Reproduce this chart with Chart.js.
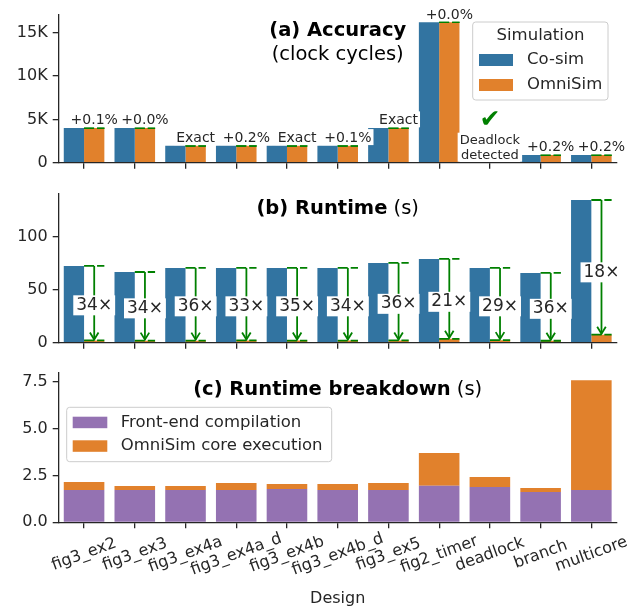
<!DOCTYPE html>
<html><head><meta charset="utf-8">
<script src="https://cdn.jsdelivr.net/npm/chart.js@4.4.0/dist/chart.umd.min.js"></script>
<style>
html,body{margin:0;padding:0;background:#fff;}
#wrap{position:relative;width:639px;height:608px;overflow:hidden;}
#wrap canvas{position:absolute;left:0;top:0;}
</style></head><body>
<div id="wrap">
<canvas id="ca" width="639" height="608"></canvas>
<canvas id="cb" width="639" height="608"></canvas>
<canvas id="cc" width="639" height="608"></canvas>
</div>
<script>
// ---------------- data ----------------
const designs = ['fig3_ex2','fig3_ex3','fig3_ex4a','fig3_ex4a_d','fig3_ex4b','fig3_ex4b_d','fig3_ex5','fig2_timer','deadlock','branch','multicore'];
// (a) accuracy, clock cycles
const cosimCycles   = [4000, 4000, 1950, 1950, 1950, 1950, 4000, 16220, null, 880, 880];
const omnisimCycles = [4004, 4000, 1950, 1954, 1950, 1952, 4000, 16220, null, 882, 882];
const accuracyLabels = ['+0.1%','+0.0%','Exact','+0.2%','Exact','+0.1%','Exact','+0.0%','Deadlock\ndetected','+0.2%','+0.2%'];
// (b) runtime, seconds
const cosimRuntime   = [72.4, 66.7, 70.5, 70.5, 70.5, 70.5, 75.2, 79.0, 70.5, 65.8, 134.6];
const omnisimRuntime = [2.15, 1.94, 1.94, 2.10, 2.04, 2.04, 2.10, 3.70, 2.42, 1.83, 7.57];
const speedupLabels  = ['34×','34×','36×','33×','35×','34×','36×','21×','29×','36×','18×'];
// (c) runtime breakdown, seconds
const frontEndTime = [1.72, 1.72, 1.72, 1.72, 1.78, 1.72, 1.72, 1.95, 1.88, 1.62, 1.72];
const coreExecTime = [0.43, 0.22, 0.22, 0.38, 0.26, 0.32, 0.38, 1.75, 0.54, 0.21, 5.85];
// ticks
const ticksA = [0, 5000, 10000, 15000];
const tickLabelsA = ['0','5K','10K','15K'];
const ticksB = [0, 50, 100];
const tickLabelsB = ['0','50','100'];
const ticksC = [0, 2.5, 5, 7.5];
const tickLabelsC = ['0.0','2.5','5.0','7.5'];

// ---------------- style ----------------
const FONT = "'DejaVu Sans', sans-serif";
const INK = '#262626';
const BLUE = '#3274a1', ORANGE = '#e1812c', PURPLE = '#9472b2', GREEN = '#008000';
const AREA_L = 58.7, AREA_R = 616.7, CX = (AREA_L + AREA_R) / 2;

function baseOptions(top, bottom, yMax, ticks, labels, stacked) {
  return {
    responsive: false, animation: false,
    layout: { padding: { left: 0, right: 639 - AREA_R, top: top, bottom: 608 - bottom - 10 } },
    plugins: { legend: { display: false }, tooltip: { enabled: false }, title: { display: false } },
    scales: {
      x: {
        type: 'category', offset: true, stacked: !!stacked,
        grid: { display: true, offset: false, drawOnChartArea: false, drawTicks: true, tickLength: 6, color: INK, lineWidth: 1.3 },
        border: { display: true, color: INK, width: 1.3 },
        ticks: { display: false },
        afterFit(s) { s.height = 10; }
      },
      y: {
        min: 0, max: yMax, stacked: !!stacked,
        grid: { display: true, drawOnChartArea: false, drawTicks: true, tickLength: 6, color: INK, lineWidth: 1.3 },
        border: { display: true, color: INK, width: 1.3 },
        ticks: { color: INK, font: { family: FONT, size: 16 }, padding: 5, callback: (v, i) => labels[i] },
        afterBuildTicks(s) { s.ticks = ticks.map(v => ({ value: v })); },
        afterFit(s) { s.width = AREA_L; }
      }
    }
  };
}

function roundRect(ctx, x, y, w, h, r) {
  ctx.beginPath();
  ctx.moveTo(x + r, y);
  ctx.arcTo(x + w, y, x + w, y + h, r);
  ctx.arcTo(x + w, y + h, x, y + h, r);
  ctx.arcTo(x, y + h, x, y, r);
  ctx.arcTo(x, y, x + w, y, r);
  ctx.closePath();
}

function mixedTitle(ctx, boldText, normalText, cx, cy) {
  ctx.textBaseline = 'middle';
  ctx.textAlign = 'left';
  ctx.font = `bold 19.5px ${FONT}`;
  const wb = ctx.measureText(boldText).width;
  ctx.font = `19.5px ${FONT}`;
  const wn = normalText ? ctx.measureText(normalText).width : 0;
  const x0 = cx - (wb + wn) / 2;
  ctx.fillStyle = '#000';
  ctx.font = `bold 19.5px ${FONT}`;
  ctx.fillText(boldText, x0, cy);
  if (normalText) { ctx.font = `19.5px ${FONT}`; ctx.fillText(normalText, x0 + wb, cy); }
}

function dashedAcross(ctx, bar, yp) {
  ctx.strokeStyle = GREEN; ctx.lineWidth = 1.8; ctx.setLineDash([10, 3]);
  ctx.beginPath(); ctx.moveTo(bar.x - bar.width / 2, yp); ctx.lineTo(bar.x + bar.width / 2, yp); ctx.stroke();
  ctx.setLineDash([]);
}

function legendBox(ctx, x, y, w, h) {
  roundRect(ctx, x, y, w, h, 3);
  ctx.fillStyle = 'rgba(255,255,255,0.8)'; ctx.fill();
  ctx.strokeStyle = '#cccccc'; ctx.lineWidth = 1; ctx.stroke();
}

// ---------------- (a) accuracy ----------------
const pluginA = {
  id: 'pluginA',
  afterDatasetsDraw(chart) {
    const ctx = chart.ctx, ys = chart.scales.y, xs = chart.scales.x;
    const mo = chart.getDatasetMeta(1);
    ctx.save();
    designs.forEach((d, i) => {
      if (cosimCycles[i] == null) return;
      const bar = mo.data[i];
      dashedAcross(ctx, bar, ys.getPixelForValue(cosimCycles[i]));
      dashedAcross(ctx, bar, ys.getPixelForValue(omnisimCycles[i]));
    });
    designs.forEach((d, i) => {
      if (cosimCycles[i] == null) {
        // deadlock: check mark + two-line note at category centre
        const cx = xs.getPixelForValue(i), y0 = ys.getPixelForValue(0);
        const lines = accuracyLabels[i].split('\n');
        ctx.font = `13px ${FONT}`;
        const w = Math.max(...lines.map(l => ctx.measureText(l).width));
        ctx.fillStyle = '#fff';
        ctx.fillRect(cx - w / 2 - 2, y0 - 30, w + 4, 29);
        ctx.fillStyle = INK; ctx.textAlign = 'center'; ctx.textBaseline = 'middle';
        ctx.fillText(lines[0], cx, y0 - 22);
        ctx.fillText(lines[1], cx, y0 - 7);
        ctx.fillStyle = GREEN; ctx.font = `25px ${FONT}`;
        ctx.fillText('✔', cx, y0 - 42);
        return;
      }
      const bar = mo.data[i];
      const top = ys.getPixelForValue(Math.max(cosimCycles[i], omnisimCycles[i]));
      ctx.font = `14px ${FONT}`;
      const t = accuracyLabels[i];
      const w = ctx.measureText(t).width;
      const base = top - 3.7;
      ctx.fillStyle = '#fff';
      ctx.fillRect(bar.x - w / 2 - 2, base - 13, w + 4, 16);
      ctx.fillStyle = INK; ctx.textAlign = 'center'; ctx.textBaseline = 'alphabetic';
      ctx.fillText(t, bar.x, base);
    });
    ctx.restore();
  },
  afterDraw(chart) {
    const ctx = chart.ctx;
    ctx.save();
    mixedTitle(ctx, '(a) Accuracy', '', CX, 31);
    ctx.font = `19.5px ${FONT}`; ctx.textAlign = 'center'; ctx.fillStyle = '#000';
    ctx.fillText('(clock cycles)', CX, 55);
    legendBox(ctx, 472.7, 22, 135.3, 78);
    ctx.font = `16.5px ${FONT}`; ctx.fillStyle = INK; ctx.textAlign = 'center'; ctx.textBaseline = 'middle';
    ctx.fillText('Simulation', 540.5, 35.5);
    ctx.fillStyle = BLUE; ctx.fillRect(479, 54, 34, 12);
    ctx.fillStyle = ORANGE; ctx.fillRect(479, 79, 34, 12);
    ctx.fillStyle = INK; ctx.textAlign = 'left';
    ctx.fillText('Co-sim', 527, 60);
    ctx.fillText('OmniSim', 527, 85);
    ctx.restore();
  }
};

new Chart(document.getElementById('ca'), {
  type: 'bar',
  data: {
    labels: designs,
    datasets: [
      { label: 'Co-sim', data: cosimCycles, backgroundColor: BLUE, borderWidth: 0, categoryPercentage: 0.8, barPercentage: 1.0 },
      { label: 'OmniSim', data: omnisimCycles, backgroundColor: ORANGE, borderWidth: 0, categoryPercentage: 0.8, barPercentage: 1.0 }
    ]
  },
  options: baseOptions(13.3, 162.7, 17100, ticksA, tickLabelsA, false),
  plugins: [pluginA]
});

// ---------------- (b) runtime ----------------
const pluginB = {
  id: 'pluginB',
  afterDatasetsDraw(chart) {
    const ctx = chart.ctx, ys = chart.scales.y;
    const mo = chart.getDatasetMeta(1);
    ctx.save();
    designs.forEach((d, i) => {
      const bar = mo.data[i];
      const yTop = ys.getPixelForValue(cosimRuntime[i]);
      const yBot = ys.getPixelForValue(omnisimRuntime[i]);
      dashedAcross(ctx, bar, yTop);
      dashedAcross(ctx, bar, yBot);
      // arrow
      ctx.strokeStyle = GREEN; ctx.lineWidth = 1.8;
      ctx.beginPath(); ctx.moveTo(bar.x, yTop); ctx.lineTo(bar.x, yBot - 1); ctx.stroke();
      ctx.beginPath(); ctx.moveTo(bar.x - 4.3, yBot - 8); ctx.lineTo(bar.x, yBot - 1); ctx.lineTo(bar.x + 4.3, yBot - 8); ctx.stroke();
      // label
      const yc = ys.getPixelForValue(cosimRuntime[i] / 2) + 1;
      ctx.font = `17px ${FONT}`;
      const t = speedupLabels[i];
      const w = ctx.measureText(t).width;
      ctx.fillStyle = '#fff';
      ctx.fillRect(bar.x - w / 2 - 3, yc - 10, w + 6, 20);
      ctx.fillStyle = INK; ctx.textAlign = 'center'; ctx.textBaseline = 'middle';
      ctx.fillText(t, bar.x, yc);
    });
    ctx.restore();
  },
  afterDraw(chart) {
    const ctx = chart.ctx;
    ctx.save();
    mixedTitle(ctx, '(b) Runtime', ' (s)', CX, 209);
    ctx.restore();
  }
};

new Chart(document.getElementById('cb'), {
  type: 'bar',
  data: {
    labels: designs,
    datasets: [
      { label: 'Co-sim', data: cosimRuntime, backgroundColor: BLUE, borderWidth: 0, categoryPercentage: 0.8, barPercentage: 1.0 },
      { label: 'OmniSim', data: omnisimRuntime, backgroundColor: ORANGE, borderWidth: 0, categoryPercentage: 0.8, barPercentage: 1.0 }
    ]
  },
  options: baseOptions(193.3, 342.7, 140.9, ticksB, tickLabelsB, false),
  plugins: [pluginB]
});

// ---------------- (c) runtime breakdown ----------------
const pluginC = {
  id: 'pluginC',
  afterDraw(chart) {
    const ctx = chart.ctx, xs = chart.scales.x;
    ctx.save();
    mixedTitle(ctx, '(c) Runtime breakdown', ' (s)', CX, 389.5);
    legendBox(ctx, 66.7, 407.3, 265, 54.4);
    ctx.fillStyle = PURPLE; ctx.fillRect(72.7, 416.7, 34.6, 11.5);
    ctx.fillStyle = ORANGE; ctx.fillRect(72.7, 440.3, 34.6, 11.5);
    ctx.font = `16.5px ${FONT}`; ctx.fillStyle = INK; ctx.textAlign = 'left'; ctx.textBaseline = 'middle';
    ctx.fillText('Front-end compilation', 120.7, 422.5);
    ctx.fillText('OmniSim core execution', 120.7, 446);
    // rotated category labels
    ctx.font = `16px ${FONT}`; ctx.textAlign = 'center'; ctx.textBaseline = 'middle';
    designs.forEach((d, i) => {
      const px = xs.getPixelForValue(i);
      ctx.save();
      ctx.translate(px, 554.5);
      ctx.rotate(-20 * Math.PI / 180);
      ctx.fillText(d, 0, 0);
      ctx.restore();
    });
    ctx.font = `16px ${FONT}`; ctx.textBaseline = 'alphabetic';
    ctx.fillText('Design', CX, 602.5);
    ctx.restore();
  }
};

new Chart(document.getElementById('cc'), {
  type: 'bar',
  data: {
    labels: designs,
    datasets: [
      { label: 'Front-end compilation', data: frontEndTime, backgroundColor: PURPLE, borderWidth: 0, categoryPercentage: 1.0, barPercentage: 0.8 },
      { label: 'OmniSim core execution', data: coreExecTime, backgroundColor: ORANGE, borderWidth: 0, categoryPercentage: 1.0, barPercentage: 0.8 }
    ]
  },
  options: baseOptions(373, 522.3, 7.96, ticksC, tickLabelsC, true),
  plugins: [pluginC]
});
</script>
</body></html>
